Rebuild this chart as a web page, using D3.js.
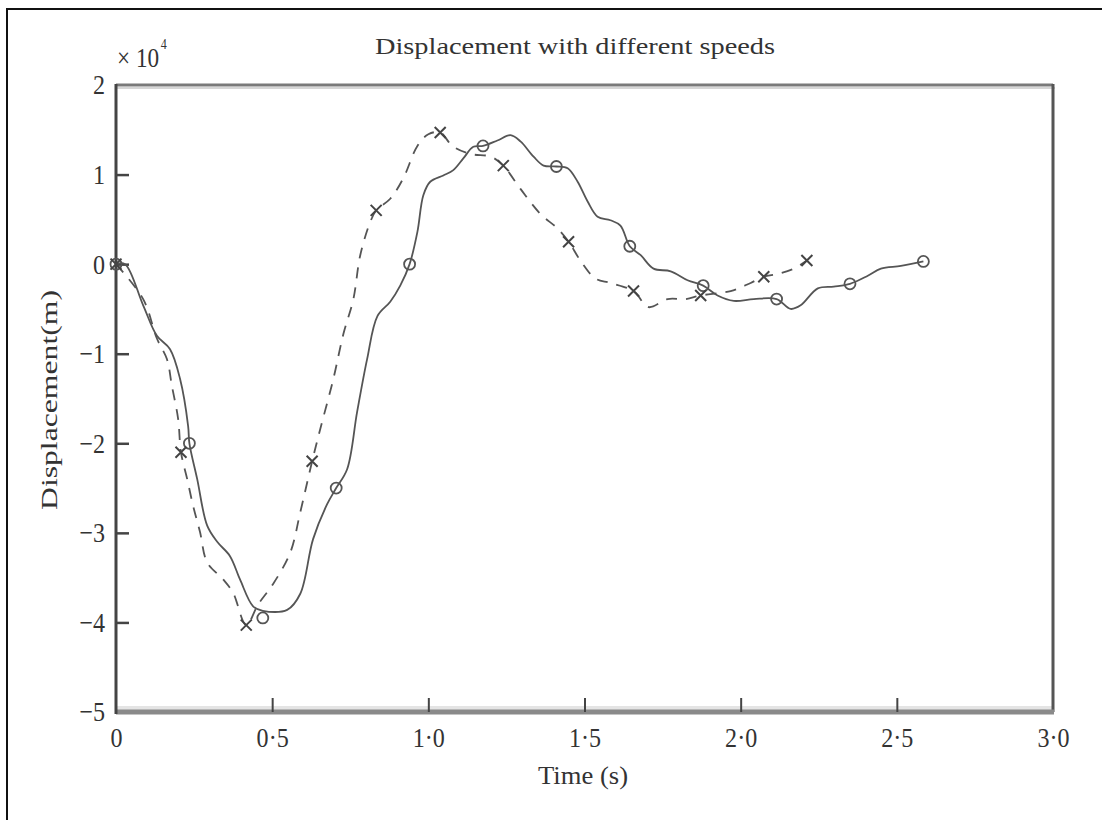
<!DOCTYPE html>
<html><head><meta charset="utf-8">
<script src="https://cdn.jsdelivr.net/npm/d3@7"></script>
<style>
html,body{margin:0;padding:0;background:#fff;}
svg{display:block;}
text{font-family:"Liberation Serif","DejaVu Serif",serif;fill:#333;}
</style></head>
<body>
<svg id="c" width="1102" height="820"></svg>
<script>
// ---- data (values in units of 1e4 m) ----
const title = "Displacement with different speeds";
const xLabel = "Time (s)";
const yLabel = "Displacement(m)";
const xTicks = [0, 0.5, 1.0, 1.5, 2.0, 2.5, 3.0];
const yTicks = [2, 1, 0, -1, -2, -3, -4, -5];

// solid curve (circle markers)
const solidT = [0,0.029,0.087,0.131,0.173,0.205,0.231,0.235,0.26,0.292,0.324,0.365,0.397,0.439,0.47,0.548,0.59,0.631,0.676,0.705,0.74,0.772,0.804,0.837,0.878,0.91,0.94,0.965,0.984,1.006,1.048,1.08,1.112,1.144,1.175,1.221,1.263,1.295,1.337,1.369,1.41,1.446,1.478,1.51,1.542,1.583,1.615,1.645,1.68,1.721,1.776,1.83,1.88,1.926,1.978,2.042,2.115,2.16,2.192,2.247,2.298,2.35,2.407,2.449,2.513,2.585];
const solidV = [0,0,-0.46,-0.80,-0.95,-1.28,-1.81,-2.0,-2.4,-2.92,-3.10,-3.26,-3.52,-3.82,-3.87,-3.86,-3.68,-3.07,-2.68,-2.5,-2.29,-1.65,-1.06,-0.58,-0.42,-0.24,0.0,0.36,0.77,0.92,0.99,1.05,1.18,1.31,1.32,1.38,1.44,1.37,1.20,1.10,1.09,1.07,0.92,0.70,0.53,0.49,0.43,0.2,0.1,-0.05,-0.08,-0.18,-0.24,-0.35,-0.41,-0.39,-0.39,-0.5,-0.46,-0.27,-0.25,-0.22,-0.13,-0.05,-0.02,0.03];
const circleT = [0,0.235,0.47,0.705,0.94,1.175,1.41,1.645,1.88,2.115,2.35,2.585];
const circleV = [0,-2.0,-3.95,-2.5,0.0,1.32,1.09,0.2,-0.24,-0.39,-0.22,0.03];

// dashed curve (cross markers)
const dashT = [0,0.087,0.131,0.163,0.179,0.199,0.208,0.228,0.247,0.269,0.292,0.343,0.375,0.417,0.455,0.503,0.558,0.59,0.628,0.654,0.696,0.728,0.76,0.782,0.814,0.833,0.878,0.92,0.965,1.0,1.038,1.077,1.135,1.2,1.24,1.295,1.359,1.413,1.449,1.487,1.535,1.583,1.657,1.705,1.766,1.824,1.872,1.968,2.032,2.074,2.119,2.17,2.212];
const dashV = [0,-0.39,-0.83,-1.06,-1.36,-1.73,-2.1,-2.4,-2.7,-2.99,-3.33,-3.52,-3.67,-4.03,-3.8,-3.57,-3.22,-2.77,-2.2,-1.84,-1.28,-0.78,-0.39,0.1,0.47,0.6,0.73,0.96,1.32,1.45,1.47,1.32,1.23,1.2,1.1,0.84,0.56,0.40,0.25,0.04,-0.16,-0.21,-0.3,-0.48,-0.39,-0.39,-0.35,-0.3,-0.21,-0.14,-0.11,-0.05,0.04];
const crossT = [0,0.208,0.417,0.628,0.833,1.038,1.24,1.449,1.657,1.872,2.074,2.212];
const crossV = [0,-2.1,-4.03,-2.2,0.6,1.47,1.1,0.25,-0.3,-0.35,-0.14,0.04];

// ---- drawing ----
const svg = d3.select("#c");
const L = 116, R = 1053, T = 85, B = 712;
const x = d3.scaleLinear().domain([0, 3]).range([L, R]);
const y = d3.scaleLinear().domain([-5, 2]).range([B, T]);

// outer frame (cropped)
svg.append("path").attr("d", `M7,820 L7,9 L1102,9`).attr("fill","none").attr("stroke","#111").attr("stroke-width",2);

// title
svg.append("text").attr("x", 575).attr("y", 54).attr("text-anchor","middle")
  .attr("font-size", 24).attr("textLength", 400).attr("lengthAdjust","spacingAndGlyphs").text(title);

// exponent label
const SX = 0.86;
const ex = svg.append("text").attr("transform", `translate(117,67) scale(${SX},1)`).attr("font-size", 27);
ex.append("tspan").text("× 10");
ex.append("tspan").attr("font-size", 14).attr("dy", -18).attr("dx", 2).text("4");

// plot box: top, right, bottom, left
svg.append("rect").attr("x", L).attr("y", B - 6).attr("width", R - L).attr("height", 4).attr("fill", "#e4e4e4");
svg.append("line").attr("x1", L).attr("x2", R).attr("y1", T).attr("y2", T).attr("stroke", "#7a7a7a").attr("stroke-width", 3);
svg.append("line").attr("x1", L).attr("x2", R + 2).attr("y1", T + 3).attr("y2", T + 3).attr("stroke", "#d6d6d6").attr("stroke-width", 2);
svg.append("line").attr("x1", R).attr("x2", R).attr("y1", T - 1).attr("y2", B).attr("stroke", "#555").attr("stroke-width", 3);
svg.append("line").attr("x1", L).attr("x2", R + 1).attr("y1", B).attr("y2", B).attr("stroke", "#8a8a8a").attr("stroke-width", 5);
svg.append("line").attr("x1", L).attr("x2", L).attr("y1", T - 1).attr("y2", B + 2).attr("stroke", "#444").attr("stroke-width", 3);

// axes
const fmtY = d => d < 0 ? "−" + Math.abs(d) : String(d);
const fmtX = d => d === 0 ? "0" : d.toFixed(1).replace(".", "·");

const gy = svg.append("g").attr("transform", `translate(${L},0)`)
  .call(d3.axisLeft(y).tickValues(yTicks).tickFormat(fmtY).tickSizeInner(-13).tickSizeOuter(0).tickPadding(11));
gy.select(".domain").remove();
gy.selectAll(".tick line").attr("stroke", "#444").attr("stroke-width", 2.5);
gy.selectAll(".tick text").attr("font-size", 28).attr("fill", "#333")
  .attr("font-family", '"Liberation Serif", serif')
  .attr("x", -11 / SX).attr("transform", `scale(${SX},1)`);
gy.selectAll(".tick").filter(d => d === 2 || d === -5).select("line").remove();

const gx = svg.append("g").attr("transform", `translate(0,${B})`)
  .call(d3.axisBottom(x).tickValues(xTicks).tickFormat(fmtX).tickSizeInner(-14).tickSizeOuter(0).tickPadding(15));
gx.select(".domain").remove();
gx.selectAll(".tick line").attr("stroke", "#444").attr("stroke-width", 2);
gx.selectAll(".tick text").attr("font-size", 28).attr("fill", "#333")
  .attr("font-family", '"Liberation Serif", serif')
  .attr("transform", `scale(${SX},1)`);
gx.selectAll(".tick").filter(d => d === 0 || d === 3).select("line").remove();

// axis titles
svg.append("text").attr("x", 583).attr("y", 784).attr("text-anchor","middle").attr("font-size", 25)
  .attr("textLength", 90).attr("lengthAdjust","spacingAndGlyphs").text(xLabel);
svg.append("text").attr("transform", "translate(57,400) rotate(-90)").attr("text-anchor","middle")
  .attr("font-size", 24).attr("textLength", 220).attr("lengthAdjust","spacingAndGlyphs").text(yLabel);

// lines
const line = d3.line().x(d => x(d[0])).y(d => y(d[1])).curve(d3.curveCatmullRom.alpha(0.5));
const solid = solidT.map((t, i) => [t, solidV[i]]);
const dashed = dashT.map((t, i) => [t, dashV[i]]);

svg.append("path").datum(dashed).attr("d", line).attr("fill","none")
  .attr("stroke","#555").attr("stroke-width",1.8).attr("stroke-dasharray","11,9");
svg.append("path").datum(solid).attr("d", line).attr("fill","none")
  .attr("stroke","#555").attr("stroke-width",1.8);

// markers
svg.append("g").selectAll("circle").data(circleT.map((t, i) => [t, circleV[i]])).join("circle")
  .attr("cx", d => x(d[0])).attr("cy", d => y(d[1])).attr("r", 5.5)
  .attr("fill","none").attr("stroke","#555").attr("stroke-width",1.8);
const cs = 5.5;
svg.append("g").selectAll("path").data(crossT.map((t, i) => [t, crossV[i]])).join("path")
  .attr("d", d => { const cx = x(d[0]), cy = y(d[1]);
    return `M${cx-cs},${cy-cs}L${cx+cs},${cy+cs}M${cx-cs},${cy+cs}L${cx+cs},${cy-cs}`; })
  .attr("fill","none").attr("stroke","#444").attr("stroke-width",2);
</script>
</body></html>
